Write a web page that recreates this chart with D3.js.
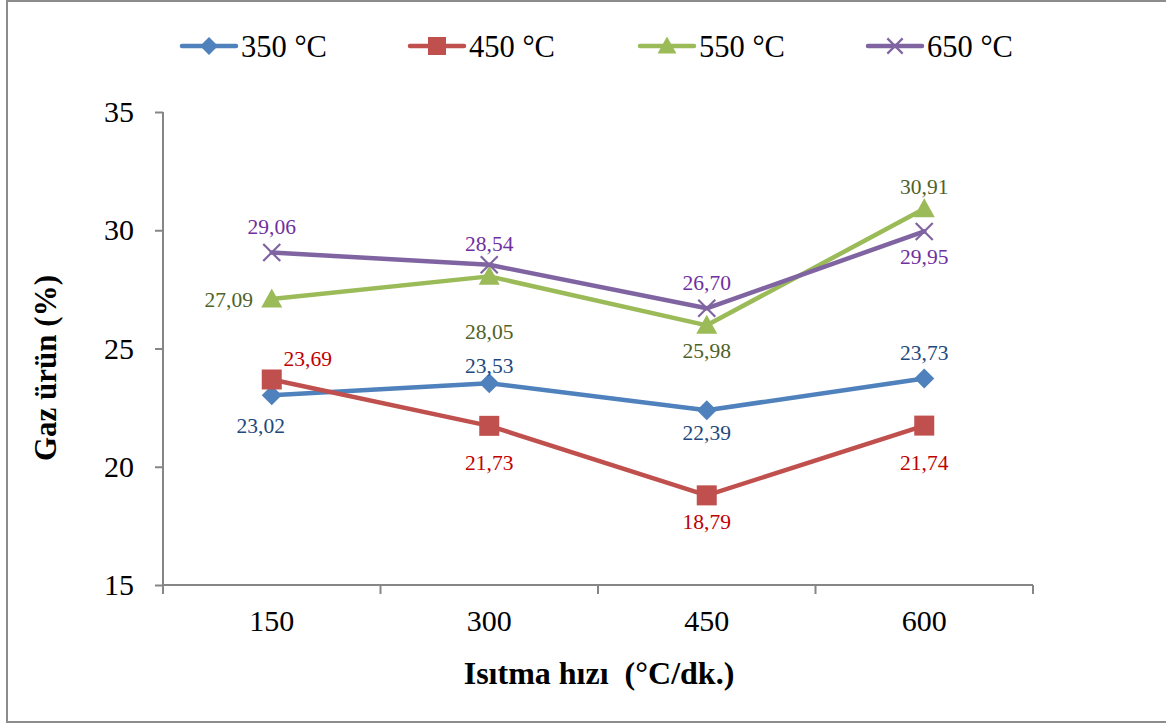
<!DOCTYPE html>
<html>
<head>
<meta charset="utf-8">
<script src="https://cdn.jsdelivr.net/npm/d3@7"></script>
<style>
  html, body { margin: 0; padding: 0; background: #fff; }
  svg { display: block; font-family: "Liberation Serif", "Times New Roman", serif; }
</style>
</head>
<body>
<svg id="chart" width="1166" height="724"></svg>
<script>
// Heating rates (x categories)
const rates = ["150", "300", "450", "600"];
// Gas yield (%) per pyrolysis temperature
const seriesNames = ["350 °C", "450 °C", "550 °C", "650 °C"];
const gas350 = [23.02, 23.53, 22.39, 23.73];
const gas450 = [23.69, 21.73, 18.79, 21.74];
const gas550 = [27.09, 28.05, 25.98, 30.91];
const gas650 = [29.06, 28.54, 26.70, 29.95];
const yTicks = [15, 20, 25, 30, 35];

// Presentation settings
const lineColors  = ["#4F81BD", "#C0504D", "#9BBB59", "#8064A2"];
const labelColors = ["#1F497D", "#C00000", "#4F6228", "#7030A0"];
const markerKinds = ["diamond", "square", "triangle", "cross"];
// Per-point label offsets [dx, dy] from the marker
const labelOffsets = [
  [[-11, 30], [0, -18], [0, 22], [0, -26]],
  [[36, -21], [0, 37], [0, 26], [0, 37]],
  [[-43, 0], [0, 55], [0, 25], [0, -22]],
  [[0, -26], [0, -21], [0, -26], [0, 25]]
];

const values = [gas350, gas450, gas550, gas650];
const svg = d3.select("#chart");

// Outer frame
svg.append("rect")
  .attr("x", 7).attr("y", 1).attr("width", 1170).attr("height", 721)
  .attr("fill", "none").attr("stroke", "#8c8c8c").attr("stroke-width", 2);

const plot = { left: 163, right: 1033, top: 112, bottom: 585 };

const x = d3.scaleBand().domain(rates).range([plot.left, plot.right]).padding(0);
const y = d3.scaleLinear().domain([15, 35]).range([plot.bottom, plot.top]);

// Y axis
const yAxis = svg.append("g")
  .attr("transform", `translate(${plot.left},0)`)
  .call(d3.axisLeft(y).tickValues(yTicks).tickSize(8).tickPadding(21).tickFormat(d3.format("d")));
yAxis.select(".domain").attr("stroke", "#868686").attr("stroke-width", 2)
  .attr("d", `M0,${plot.top}V${plot.bottom}`);
yAxis.selectAll(".tick line").attr("stroke", "#868686").attr("stroke-width", 2);
yAxis.selectAll(".tick text").attr("font-size", 30).attr("fill", "#000")
  .attr("font-family", "Liberation Serif");

// X axis
const xAxis = svg.append("g")
  .attr("transform", `translate(0,${plot.bottom})`)
  .call(d3.axisBottom(x).tickSize(0).tickPadding(25));
xAxis.select(".domain").attr("stroke", "#868686").attr("stroke-width", 2)
  .attr("d", `M${plot.left},0H${plot.right}`);
xAxis.selectAll(".tick text").attr("font-size", 30).attr("fill", "#000")
  .attr("font-family", "Liberation Serif");
// Category boundary tick marks
const bounds = rates.map(r => x(r)).concat([x(rates[rates.length - 1]) + x.bandwidth()]);
xAxis.selectAll(".bound").data(bounds).enter().append("line")
  .attr("x1", d => d).attr("x2", d => d).attr("y1", 0).attr("y2", 9)
  .attr("stroke", "#868686").attr("stroke-width", 2);

// Axis titles
svg.append("text")
  .attr("x", 599).attr("y", 684)
  .attr("text-anchor", "middle").attr("font-size", 32).attr("font-weight", "bold")
  .attr("xml:space", "preserve")
  .text("Isıtma hızı  (°C/dk.)");
svg.append("text")
  .attr("transform", "translate(56,368) rotate(-90)")
  .attr("text-anchor", "middle").attr("font-size", 31).attr("font-weight", "bold")
  .text("Gaz ürün (%)");

// Marker drawing
function drawMarker(g, kind, color, cx, cy, scale) {
  const s = scale || 1;
  if (kind === "diamond") {
    const r = 10 * s;
    g.append("path").attr("d", `M${cx},${cy - r}L${cx + r},${cy}L${cx},${cy + r}L${cx - r},${cy}Z`)
      .attr("fill", color);
  } else if (kind === "square") {
    const h = 10 * s;
    g.append("rect").attr("x", cx - h).attr("y", cy - h).attr("width", 2 * h).attr("height", 2 * h)
      .attr("fill", color);
  } else if (kind === "triangle") {
    const h = 10.5 * s;
    g.append("path").attr("d", `M${cx},${cy - h}L${cx + h},${cy + h * 0.8}L${cx - h},${cy + h * 0.8}Z`)
      .attr("fill", color);
  } else {
    const h = 8.5 * s;
    g.append("path").attr("d", `M${cx - h},${cy - h}L${cx + h},${cy + h}M${cx - h},${cy + h}L${cx + h},${cy - h}`)
      .attr("stroke", color).attr("stroke-width", 2.2).attr("fill", "none");
  }
}

const xc = r => x(r) + x.bandwidth() / 2;
const line = d3.line().x((d, i) => xc(rates[i])).y(d => y(d));

values.forEach((vals, si) => {
  const g = svg.append("g");
  g.append("path").datum(vals).attr("d", line)
    .attr("fill", "none").attr("stroke", lineColors[si]).attr("stroke-width", 4.5)
    .attr("stroke-linejoin", "round").attr("stroke-linecap", "round");
  vals.forEach((v, i) => drawMarker(g, markerKinds[si], lineColors[si], xc(rates[i]), y(v)));
});

// Data labels
values.forEach((vals, si) => {
  vals.forEach((v, i) => {
    const [dx, dy] = labelOffsets[si][i];
    svg.append("text")
      .attr("x", xc(rates[i]) + dx).attr("y", y(v) + dy)
      .attr("dy", "0.35em")
      .attr("text-anchor", "middle").attr("font-size", 21.5)
      .attr("fill", labelColors[si])
      .text(d3.format(".2f")(v).replace(".", ","));
  });
});

// Legend
const legendX = [182, 410, 640, 868];
const legend = svg.append("g");
seriesNames.forEach((name, si) => {
  const lx = legendX[si], ly = 46;
  legend.append("line").attr("x1", lx).attr("x2", lx + 54).attr("y1", ly).attr("y2", ly)
    .attr("stroke", lineColors[si]).attr("stroke-width", 4.5).attr("stroke-linecap", "round");
  drawMarker(legend, markerKinds[si], lineColors[si], lx + 27, ly, 0.9);
  legend.append("text").attr("x", lx + 59).attr("y", ly + 11)
    .attr("font-size", 30.5).attr("fill", "#000").text(name);
});
</script>
</body>
</html>
